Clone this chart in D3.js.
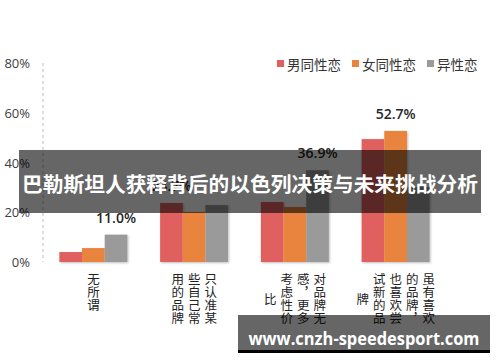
<!doctype html>
<html lang="zh">
<head>
<meta charset="utf-8">
<script src="https://cdn.jsdelivr.net/npm/d3@7/dist/d3.min.js"></script>
<style>
  body { margin: 0; background: #fff; }
  svg { display: block; }
</style>
</head>
<body>
<div id="chart"></div>
<script>
// categories (x axis)
var categories = ["无所谓", "只认准某些自己常用的品牌", "对品牌无感，更多考虑性价比", "虽有喜欢的品牌，也喜欢尝试新的品牌"];
var seriesNames = ["男同性恋", "女同性恋", "异性恋"];
var gayValues = [4.0, 23.7, 24.1, 49.4];
var lesbianValues = [5.6, 20.1, 22.1, 52.7];
var heteroValues = [11.0, 22.9, 36.9, 30.2];
var yTicks = [0, 20, 40, 60, 80];
var colors = ["#e0605e", "#e8843c", "#999a99"];

var title = "巴勒斯坦人获释背后的以色列决策与未来挑战分析";
var watermark = "www.cnzh-speedesport.com";

var W = 500, H = 362;
var svg = d3.select("#chart").append("svg")
    .attr("width", W)
    .attr("height", H);

var defs = svg.append("defs");
var f = defs.append("filter").attr("id", "shadow")
    .attr("x", "-10%").attr("y", "-10%").attr("width", "130%").attr("height", "130%");
f.append("feDropShadow").attr("dx", 1).attr("dy", 1)
    .attr("stdDeviation", 0.8).attr("flood-color", "#000").attr("flood-opacity", 0.25);

var x = d3.scaleBand().domain(categories).range([43, 446])
    .paddingInner(0.325).paddingOuter(0.1625);
var xs = d3.scaleBand().domain(seriesNames).range([0, x.bandwidth()]);
var y = d3.scaleLinear().domain([0, 80]).range([262, 63]);

// dashed y axis line
svg.append("line")
    .attr("x1", 43).attr("x2", 43)
    .attr("y1", y(80)).attr("y2", y(0))
    .attr("stroke", "#d3d3d3").attr("stroke-width", 1.5)
    .attr("stroke-dasharray", "3,3");

svg.selectAll(".ytick").data(yTicks).enter().append("text")
    .attr("x", 30).attr("y", function(d) { return y(d); })
    .attr("text-anchor", "end").attr("dominant-baseline", "central")
    .style("font-family", "'Open Sans', sans-serif").style("font-size", "13px")
    .style("fill", "#404040")
    .text(function(d) { return d + "%"; });

var table = [];
var series = [gayValues, lesbianValues, heteroValues];
categories.forEach(function(c, i) {
  series.forEach(function(vals, s) {
    table.push({cat: c, s: seriesNames[s], si: s, val: vals[i]});
  });
});

svg.append("g").attr("filter", "url(#shadow)")
  .selectAll("rect").data(table).enter().append("rect")
    .attr("x", function(d) { return x(d.cat) + xs(d.s); })
    .attr("y", function(d) { return y(d.val); })
    .attr("width", xs.bandwidth())
    .attr("height", function(d) { return y(0) - y(d.val); })
    .attr("fill", function(d) { return colors[d.si]; });

// value label on the tallest bar of each group
categories.forEach(function(c, i) {
  var vals = series.map(function(v) { return v[i]; });
  var m = d3.maxIndex(vals);
  svg.append("text")
    .attr("x", x(c) + xs(seriesNames[m]) + xs.bandwidth() / 2)
    .attr("y", y(vals[m]) - 12)
    .attr("text-anchor", "middle")
    .style("font-family", "'Open Sans', sans-serif").style("font-size", "14px")
    .style("font-weight", 600).style("fill", "#262626")
    .text(vals[m].toFixed(1) + "%");
});

// vertical category labels, 4 chars per column, columns right to left
var rowH = 13, colW = 16.5, labelTop = 273;
categories.forEach(function(c) {
  var chars = Array.from(c), cols = [];
  for (var k = 0; k < chars.length; k += 4) cols.push(chars.slice(k, k + 4));
  var maxLen = d3.max(cols, function(cl) { return cl.length; });
  var cx = x(c) + x.bandwidth() / 2;
  cols.forEach(function(col, ci) {
    var colX = cx + ((cols.length - 1) / 2 - ci) * colW;
    var y0 = labelTop + (maxLen - col.length) * rowH / 2;
    svg.append("text")
      .attr("x", colX).attr("y", y0)
      .style("writing-mode", "vertical-rl")
      .style("letter-spacing", "0.5px")
      .style("font-family", "'Noto Sans CJK SC', sans-serif").style("font-size", "12.5px")
      .style("fill", "#222")
      .text(col.join(""));
  });
});

// legend
var lx = 277;
seriesNames.forEach(function(n, i) {
  svg.append("rect").attr("x", lx).attr("y", 60).attr("width", 7).attr("height", 7)
    .attr("fill", colors[i]);
  var t = svg.append("text").attr("x", lx + 10).attr("y", 63.5)
    .attr("dominant-baseline", "central")
    .style("font-family", "'Noto Sans CJK SC', sans-serif").style("font-size", "13.5px")
    .style("fill", "#333").text(n);
  lx += 10 + t.node().getComputedTextLength() + 11;
});

// overlay banner with title
svg.append("rect").attr("x", 19).attr("y", 150).attr("width", 462).attr("height", 63)
  .attr("fill", "#000").attr("fill-opacity", 0.6);
svg.append("text").attr("x", 250).attr("y", 183)
  .attr("text-anchor", "middle").attr("dominant-baseline", "central")
  .attr("textLength", 456).attr("lengthAdjust", "spacingAndGlyphs")
  .style("font-family", "'Noto Sans CJK SC', sans-serif").style("font-size", "20.5px")
  .style("font-weight", 700).style("fill", "#fff")
  .text(title);

// watermark box
svg.append("rect").attr("x", 238).attr("y", 315).attr("width", 252).attr("height", 35)
  .attr("fill", "#000").attr("fill-opacity", 0.6);
svg.append("rect").attr("x", 238).attr("y", 350).attr("width", 252).attr("height", 3)
  .attr("fill", "#000");
svg.append("text").attr("x", 364).attr("y", 338)
  .attr("text-anchor", "middle").attr("dominant-baseline", "central")
  .attr("textLength", 231).attr("lengthAdjust", "spacingAndGlyphs")
  .style("font-family", "'Open Sans', sans-serif").style("font-size", "17px")
  .style("font-weight", 700).style("fill", "#fff")
  .text(watermark);
</script>
</body>
</html>
